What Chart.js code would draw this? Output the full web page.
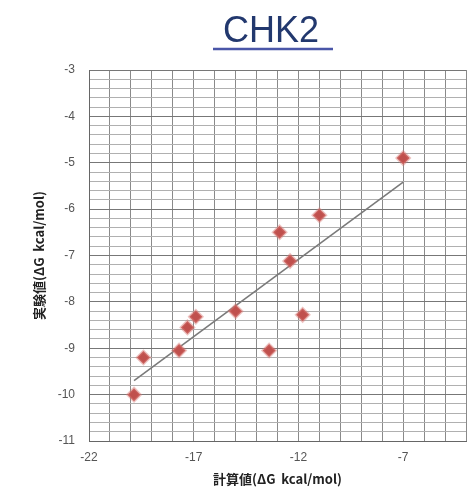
<!DOCTYPE html>
<html>
<head>
<meta charset="utf-8">
<script src="https://cdn.jsdelivr.net/npm/chart.js@4/dist/chart.umd.min.js"></script>
<style>
  body { margin: 0; background: #fff; }
  canvas { display: block; }
</style>
</head>
<body>
<canvas id="diagram" width="467" height="489"></canvas>
<script>
// värden
const calcValues = [-7.0, -11.0, -12.9, -12.4, -15.0, -16.9, -17.3, -11.8, -17.7, -13.4, -19.4, -19.85];
const exptValues = [-4.9, -6.13, -6.5, -7.12, -8.2, -8.32, -8.55, -8.28, -9.05, -9.05, -9.2, -10.0];
const trendX = [-19.85, -7.0];
const trendY = [-9.7, -5.42];
const xTickLabels = [-22, -17, -12, -7];
const chartTitle = 'CHK2';
const xTitle = '計算値(ΔG  kcal/mol)';
const yTitle = '実験値(ΔG  kcal/mol)';

window.onload = init;

function init() {
    createChart();
}

function isInt(v) {
    return Math.abs(v - Math.round(v)) < 1e-6;
}

// ritar rubriken med understrykning
const titlePlugin = {
    id: 'titleLine',
    afterDraw(chart) {
        const ctx = chart.ctx;
        ctx.save();
        ctx.font = '36px "Liberation Sans", Arial, sans-serif';
        ctx.fillStyle = '#22386e';
        ctx.textAlign = 'center';
        ctx.textBaseline = 'alphabetic';
        ctx.fillText(chartTitle, 271, 42);
        ctx.strokeStyle = '#4a56a8';
        ctx.lineWidth = 2.5;
        ctx.beginPath();
        ctx.moveTo(213, 49);
        ctx.lineTo(333, 49);
        ctx.stroke();
        ctx.restore();
    }
};

function createChart() {
    const ctx = document.getElementById('diagram').getContext('2d');

    new Chart(ctx, {
        type: 'scatter',
        data: {
            datasets: [
                {
                    label: 'data',
                    data: calcValues.map((x, i) => ({ x: x, y: exptValues[i] })),
                    pointStyle: 'rectRot',
                    pointRadius: 6.5,
                    backgroundColor: '#c0504d',
                    borderColor: 'rgba(215,120,115,0.45)',
                    borderWidth: 2.5,
                    order: 1
                },
                {
                    label: 'trend',
                    type: 'line',
                    data: trendX.map((x, i) => ({ x: x, y: trendY[i] })),
                    borderColor: '#7a7a7a',
                    borderWidth: 1.6,
                    pointRadius: 0,
                    fill: false,
                    order: 2
                }
            ]
        },
        options: {
            responsive: false,
            animation: false,
            layout: { autoPadding: false, padding: { top: 70, right: 1, left: 0, bottom: 0 } },
            plugins: {
                legend: { display: false },
                tooltip: { enabled: false }
            },
            scales: {
                x: {
                    type: 'linear',
                    min: -22,
                    max: -4,
                    afterFit(s) {
                        s.height = 48;
                        s.paddingLeft = 0;
                        s.paddingRight = 0;
                    },
                    ticks: {
                        stepSize: 1,
                        autoSkip: false,
                        maxRotation: 0,
                        padding: 9,
                        color: '#555',
                        font: { family: '"Liberation Sans", Arial, sans-serif', size: 12 },
                        callback: v => xTickLabels.includes(Math.round(v)) && isInt(v) ? String(Math.round(v)) : ''
                    },
                    grid: { color: '#8a8a8a', lineWidth: 1, drawTicks: false },
                    border: { color: '#666', width: 1 },
                    title: {
                        display: true,
                        text: xTitle,
                        color: '#222',
                        font: { family: '"Noto Sans CJK JP", sans-serif', size: 13, weight: 'bold' },
                        padding: { top: 0, bottom: 2 }
                    }
                },
                y: {
                    type: 'linear',
                    min: -11,
                    max: -3,
                    afterFit(s) { s.width = 89; },
                    ticks: {
                        stepSize: 0.2,
                        autoSkip: false,
                        padding: 14,
                        color: '#555',
                        font: { family: '"Liberation Sans", Arial, sans-serif', size: 12 },
                        callback: v => isInt(v) ? String(Math.round(v)) : ''
                    },
                    grid: {
                        color: c => (c.tick && isInt(c.tick.value)) ? '#777' : '#b0b0b0',
                        lineWidth: 1,
                        drawTicks: false
                    },
                    border: { color: '#666', width: 1 },
                    title: {
                        display: true,
                        text: yTitle,
                        color: '#222',
                        font: { family: '"Noto Sans CJK JP", sans-serif', size: 13, weight: 'bold' },
                        padding: { top: 31, bottom: 0 }
                    }
                }
            }
        },
        plugins: [titlePlugin]
    });
}
</script>
</body>
</html>
